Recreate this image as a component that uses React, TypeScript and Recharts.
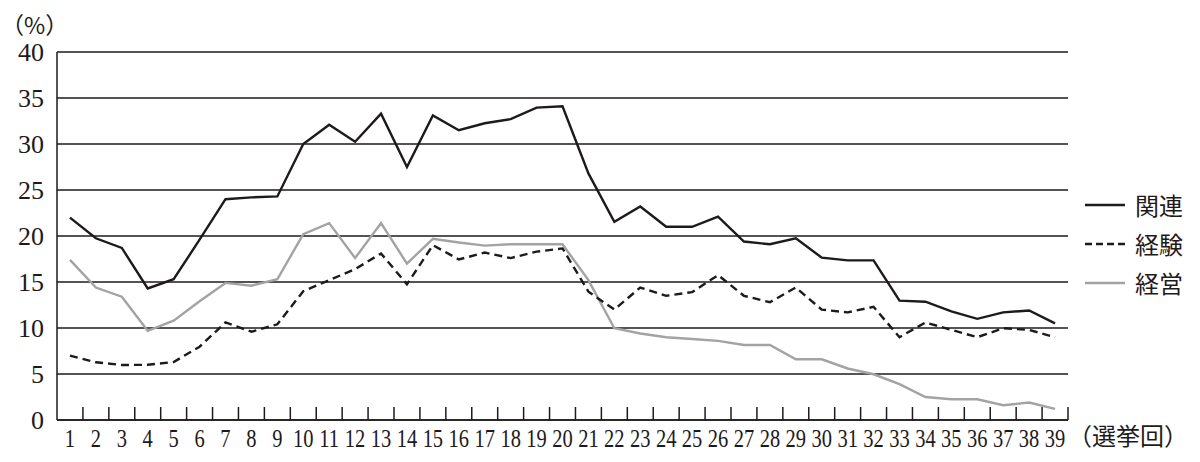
import { LineChart, Line, XAxis, YAxis, CartesianGrid } from "recharts";

const elections = [
  1, 2, 3, 4, 5, 6, 7, 8, 9, 10, 11, 12, 13, 14, 15, 16, 17, 18, 19, 20,
  21, 22, 23, 24, 25, 26, 27, 28, 29, 30, 31, 32, 33, 34, 35, 36, 37, 38, 39,
];

const kanren = [
  22.0, 19.75, 18.7, 14.3, 15.3, 19.6, 24.0, 24.2, 24.3, 30.0, 32.1, 30.25, 33.3,
  27.5, 33.1, 31.5, 32.25, 32.7, 33.95, 34.1, 26.8, 21.55, 23.2, 21.0, 21.0, 22.1,
  19.4, 19.1, 19.75, 17.65, 17.35, 17.35, 12.97, 12.86, 11.8, 11.0, 11.7, 11.9, 10.5,
];

const keiken = [
  7.0, 6.27, 5.98, 6.0, 6.3, 7.97, 10.6, 9.6, 10.4, 14.0, 15.2, 16.4, 18.1, 14.75,
  19.0, 17.45, 18.2, 17.6, 18.3, 18.65, 13.95, 12.0, 14.4, 13.5, 13.9, 15.75, 13.5,
  12.8, 14.4, 12.0, 11.7, 12.3, 9.0, 10.6, 9.8, 9.0, 9.97, 9.8, 9.0,
];

const keiei = [
  17.4, 14.4, 13.4, 9.7, 10.8, 12.9, 14.9, 14.6, 15.3, 20.2, 21.4, 17.6, 21.4, 17.0,
  19.7, 19.3, 18.95, 19.1, 19.1, 19.1, 15.2, 9.97, 9.4, 9.0, 8.8, 8.6, 8.15, 8.15,
  6.6, 6.6, 5.6, 4.97, 3.9, 2.5, 2.25, 2.25, 1.6, 1.9, 1.2,
];

const yTicks = [0, 5, 10, 15, 20, 25, 30, 35, 40];

const series = [
  { key: "kanren", name: "関連", color: "#1e1a1a", dash: undefined as string | undefined },
  { key: "keiken", name: "経験", color: "#1e1a1a", dash: "8 5" },
  { key: "keiei", name: "経営", color: "#a3a3a3", dash: undefined as string | undefined },
];

const data = elections.map((n, i) => ({
  n,
  kanren: kanren[i],
  keiken: keiken[i],
  keiei: keiei[i],
}));

const INK = "#1e1a1a";
const SERIF = "'Liberation Serif', 'DejaVu Serif', serif";
const CJK = "'Noto Sans CJK JP', sans-serif";

function XTick(props: any) {
  const { x, y, width, payload } = props;
  const step = width / elections.length;
  return (
    <g>
      <line x1={x + step / 2} x2={x + step / 2} y1={y} y2={y - 13} stroke={INK} strokeWidth={1.5} />
      <text
        x={x}
        y={y + 27}
        textAnchor="middle"
        fontFamily={SERIF}
        fontSize={25}
        fill={INK}
        transform={`translate(${x} 0) scale(0.82 1) translate(${-x} 0)`}
      >
        {payload.value}
      </text>
    </g>
  );
}

function UnitLabel(props: any) {
  const { viewBox } = props;
  return (
    <text x={viewBox.x + 1} y={viewBox.y - 18} textAnchor="start" fontFamily={CJK} fontSize={23} fill={INK}>
      （%）
    </text>
  );
}

export default function App() {
  return (
    <div style={{ position: "absolute", left: 0, top: 0, width: 1200, height: 462, background: "#fff" }}>
      <LineChart width={1200} height={462} data={data} margin={{ top: 52, right: 132, bottom: 0, left: 0 }}>
        <CartesianGrid vertical={false} stroke={INK} strokeWidth={1.5} />
        <XAxis
          dataKey="n"
          type="number"
          domain={[0.5, 39.5]}
          ticks={elections}
          interval={0}
          height={42}
          axisLine={{ stroke: INK, strokeWidth: 1.5 }}
          tickLine={false}
          tickSize={0}
          tickMargin={0}
          tick={<XTick />}
          label={{
            value: "（選挙回）",
            position: "right",
            offset: 0,
            dy: -5,
            fontFamily: CJK,
            fontSize: 24,
            fill: INK,
          }}
        />
        <YAxis
          domain={[0, 40]}
          ticks={yTicks}
          interval={0}
          width={57}
          axisLine={{ stroke: INK, strokeWidth: 1.5 }}
          tickLine={false}
          tickSize={0}
          tickMargin={13}
          tick={{ fontFamily: SERIF, fontSize: 26, fill: INK }}
          label={<UnitLabel />}
        />
        <Line dataKey="keiei" name="経営" stroke="#a3a3a3" strokeWidth={2.4} dot={false} isAnimationActive={false} />
        <Line dataKey="keiken" name="経験" stroke={INK} strokeWidth={2.4} strokeDasharray="8 5" dot={false} isAnimationActive={false} />
        <Line dataKey="kanren" name="関連" stroke={INK} strokeWidth={2.4} dot={false} isAnimationActive={false} />
      </LineChart>
      <div style={{ position: "absolute", left: 1084, top: 185, fontFamily: CJK, fontSize: 24, color: INK }}>
        {series.map((s) => (
          <div key={s.key} style={{ display: "flex", alignItems: "center", height: 39 }}>
            <svg width={42} height={10} style={{ marginRight: 9 }}>
              <line x1={1} x2={41} y1={5} y2={5} stroke={s.color} strokeWidth={2.4} strokeDasharray={s.dash ? "7 4" : undefined} />
            </svg>
            <span style={{ lineHeight: "24px" }}>{s.name}</span>
          </div>
        ))}
      </div>
    </div>
  );
}
